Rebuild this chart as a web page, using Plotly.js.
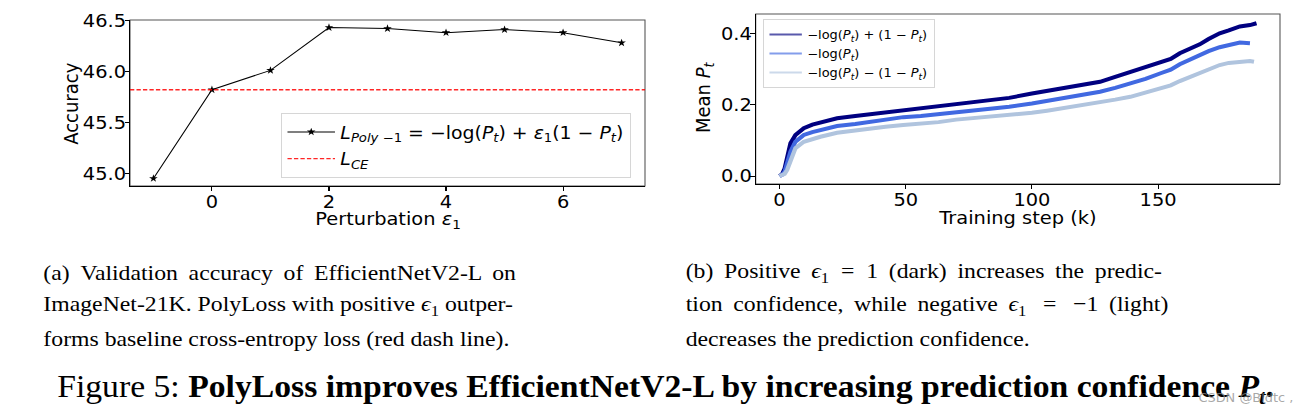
<!DOCTYPE html>
<html>
<head>
<meta charset="utf-8">
<script src="https://cdn.plot.ly/plotly-3.0.1.min.js"></script>
<style>
  html, body { margin: 0; padding: 0; background: #fff; }
  #wrap { width: 1302px; height: 416px; overflow: hidden; }
  #chart { width: 1206px; height: 416px; transform: scaleX(1.0796); transform-origin: 0 0; }
</style>
</head>
<body>
<div id="wrap"><div id="chart"></div></div>
<script>
// ---------- Panel (a) data ----------
const epsilon = [-1, 0, 1, 2, 3, 4, 5, 6, 7];
const accuracy = [44.95, 45.82, 46.01, 46.43, 46.42, 46.38, 46.41, 46.38, 46.28];
const ceAccuracy = 45.82;
const epsRange = [-1.4, 7.4];
const epsTicks = [0, 2, 4, 6];
const accRange = [44.876, 46.504];
const accTicks = [45.0, 45.5, 46.0, 46.5];

// ---------- Panel (b) data ----------
const steps = [0, 1, 2, 3, 4.35, 6.3, 9.6, 13, 16.2, 22.8, 30, 36, 42, 49, 56, 63, 70, 77, 84, 91,
               100, 106, 112.5, 120, 127, 133, 139, 145, 151, 155, 158.6, 162.5, 166.5, 170, 174.4, 178, 182.4, 186.4];
const stepsDark = steps.concat([189]);
const stepsLight = steps.concat([188]);
const meanPtDark = [0, 0.005, 0.02, 0.054, 0.092, 0.115, 0.134, 0.144, 0.150, 0.162, 0.168, 0.173, 0.179, 0.185, 0.190, 0.196, 0.202, 0.208, 0.213, 0.219,
                    0.231, 0.238, 0.246, 0.256, 0.264, 0.278, 0.292, 0.305, 0.318, 0.328, 0.344, 0.356, 0.369, 0.384, 0.400, 0.408, 0.419, 0.423, 0.428];
const meanPtMid = [0, 0.003, 0.012, 0.036, 0.068, 0.096, 0.115, 0.123, 0.129, 0.140, 0.146, 0.152, 0.158, 0.165, 0.168, 0.173, 0.180, 0.185, 0.190, 0.194,
                   0.203, 0.210, 0.218, 0.227, 0.236, 0.247, 0.260, 0.272, 0.288, 0.298, 0.313, 0.326, 0.339, 0.350, 0.361, 0.368, 0.374, 0.372];
const meanPtLight = [0, 0.002, 0.006, 0.017, 0.045, 0.078, 0.096, 0.104, 0.110, 0.121, 0.128, 0.134, 0.138, 0.143, 0.147, 0.151, 0.158, 0.162, 0.166, 0.170,
                     0.177, 0.183, 0.190, 0.198, 0.207, 0.214, 0.222, 0.233, 0.246, 0.254, 0.266, 0.277, 0.288, 0.299, 0.311, 0.317, 0.320, 0.322, 0.320];
const stepRange = [-9.45, 198.3];
const stepTicks = [0, 50, 100, 150];
const ptRange = [-0.0224, 0.454];
const ptTicks = [0.0, 0.2, 0.4];

// ---------- Text ----------
const T = "\u2009"; // thin space used to widen justified lines
const captionA = [
  "(a) " + T + "Validation " + T + "accuracy " + T + "of " + T + "EfficientNetV2-L " + T + "on",
  "ImageNet-21K. PolyLoss with positive <i>ϵ</i><sub>1</sub> outper-",
  "forms baseline cross-entropy loss (red dash line)."
];
const captionB = [
  "(b) " + T + "Positive " + T + "<i>ϵ</i><sub>1</sub>  =  1 " + T + "(dark) " + T + "increases " + T + "the " + T + "predic-",
  "tion " + T + "confidence, " + T + "while " + T + "negative " + T + "<i>ϵ</i><sub>1</sub> " + T + " = " + T + " −1 " + T + "(light)",
  "decreases the prediction confidence."
];
const figCaption = "Figure 5: <b>PolyLoss improves EfficientNetV2-L by increasing prediction confidence <i>P<sub>t</sub></i>.</b>";
const watermark = "CSDN @Bldtc ,";
const titleA = {x: "Perturbation <i>ε</i><sub>1</sub>", y: "Accuracy"};
const titleB = {x: "Training step (k)", y: "Mean <i>P</i><sub><i>t</i></sub>"};
const nameA = ["<i>L</i><sub><i>Poly</i> −1</sub> = −log(<i>P</i><sub><i>t</i></sub>) + <i>ε</i><sub>1</sub>(1 − <i>P</i><sub><i>t</i></sub>)",
               "<i>L</i><sub><i>CE</i></sub>"];
const nameB = ["−log(<i>P</i><sub><i>t</i></sub>) + (1 − <i>P</i><sub><i>t</i></sub>)",
               "−log(<i>P</i><sub><i>t</i></sub>)",
               "−log(<i>P</i><sub><i>t</i></sub>) − (1 − <i>P</i><sub><i>t</i></sub>)"];
const colorsB = ['#000080', '#4169E1', '#B0C4DE'];

const W = 1302, H = 416;
const px = v => v / W;
const py = v => 1 - v / H;

const mpl = "DejaVu Sans, sans-serif";
const serif = "Liberation Serif, Times New Roman, serif";

const seriesB = [[stepsDark, meanPtDark], [steps, meanPtMid], [stepsLight, meanPtLight]];

const traces = [
  {
    x: epsilon, y: accuracy, type: 'scatter', mode: 'lines+markers', name: nameA[0],
    line: {color: '#000', width: 1}, marker: {symbol: 'star', size: 6, color: '#000'},
    xaxis: 'x', yaxis: 'y', legend: 'legend', legendgroup: 'a1'
  },
  {
    x: epsRange, y: epsRange.map(() => ceAccuracy), type: 'scatter', mode: 'lines', name: nameA[1],
    line: {color: 'rgba(255,0,0,0.85)', width: 1.3, dash: '4px,2px'},
    xaxis: 'x', yaxis: 'y', legend: 'legend', legendgroup: 'a2'
  }
];
seriesB.forEach((s, i) => traces.push({
  x: s[0], y: s[1], type: 'scatter', mode: 'lines', name: nameB[i], showlegend: false,
  line: {color: colorsB[i], width: 4}, xaxis: 'x2', yaxis: 'y2'
}));
// legend proxies (thin, semi-transparent handles as in the reference legend)
seriesB.forEach((s, i) => traces.push({
  x: [null], y: [null], type: 'scatter', mode: 'lines', name: nameB[i], opacity: 0.65,
  line: {color: colorsB[i], width: 2}, xaxis: 'x2', yaxis: 'y2', legend: 'legend2'
}));

const axisCommon = {
  showgrid: false, zeroline: false, showline: true, linecolor: '#000', linewidth: 1,
  ticks: 'outside', ticklen: 4, tickcolor: '#000', tickwidth: 1, ticklabelstandoff: -5,
  tickfont: {family: mpl, size: 18, color: '#000'}
};

const annotations = [];
captionA.forEach((t, i) => annotations.push({
  xref: 'paper', yref: 'paper', x: px(41), y: py(272 + 33 * i), xanchor: 'left', yanchor: 'middle',
  text: t, showarrow: false, font: {family: serif, size: 22, color: '#000'}
}));
captionB.forEach((t, i) => annotations.push({
  xref: 'paper', yref: 'paper', x: px(683), y: py(272 + 33 * i), xanchor: 'left', yanchor: 'middle',
  text: t, showarrow: false, font: {family: serif, size: 22, color: '#000'}
}));
annotations.push({
  xref: 'paper', yref: 'paper', x: px(55), y: py(389), xanchor: 'left', yanchor: 'middle',
  text: figCaption, showarrow: false, font: {family: serif, size: 31.2, color: '#000'}
});
annotations.push({
  xref: 'paper', yref: 'paper', x: px(1196), y: py(398), xanchor: 'left', yanchor: 'middle',
  text: watermark, showarrow: false, font: {family: mpl, size: 12, color: 'rgba(140,140,140,0.75)'}
});
// axis titles
const axTitleFont = {family: mpl, size: 18, color: '#000'};
annotations.push({xref: 'paper', yref: 'paper', x: px(388), y: py(220), xanchor: 'center', yanchor: 'middle',
  text: titleA.x, showarrow: false, font: axTitleFont});
annotations.push({xref: 'paper', yref: 'paper', x: px(70), y: py(103), xanchor: 'center', yanchor: 'middle',
  text: titleA.y, textangle: -90, showarrow: false, font: axTitleFont});
annotations.push({xref: 'paper', yref: 'paper', x: px(1018), y: py(217), xanchor: 'center', yanchor: 'middle',
  text: titleB.x, showarrow: false, font: axTitleFont});
annotations.push({xref: 'paper', yref: 'paper', x: px(705), y: py(97), xanchor: 'center', yanchor: 'middle',
  text: titleB.y, textangle: -90, showarrow: false, font: axTitleFont});

const layout = {
  width: 1206, height: 416, autosize: false,
  margin: {l: 0, r: 0, t: 0, b: 0},
  paper_bgcolor: '#fff', plot_bgcolor: '#fff',
  xaxis: Object.assign({}, axisCommon, {
    domain: [px(130), px(645)], range: epsRange, tickvals: epsTicks, anchor: 'y'
  }),
  yaxis: Object.assign({}, axisCommon, {
    domain: [py(186), py(20)], range: accRange, tickvals: accTicks, tickformat: '.1f', anchor: 'x'
  }),
  xaxis2: Object.assign({}, axisCommon, {
    domain: [px(755.7), px(1280)], range: stepRange, tickvals: stepTicks, anchor: 'y2'
  }),
  yaxis2: Object.assign({}, axisCommon, {
    domain: [py(184), py(14)], range: ptRange, tickvals: ptTicks, tickformat: '.1f', anchor: 'x2'
  }),
  shapes: [
    {type: 'rect', xref: 'x domain', yref: 'y domain', x0: 0, x1: 1, y0: 0, y1: 1, line: {color: '#555', width: 1}, layer: 'below'},
    {type: 'rect', xref: 'x2 domain', yref: 'y2 domain', x0: 0, x1: 1, y0: 0, y1: 1, line: {color: '#555', width: 1}, layer: 'below'}
  ],
  legend: {
    x: px(281), y: py(113), xanchor: 'left', yanchor: 'top',
    bgcolor: 'rgba(255,255,255,0.8)', bordercolor: '#d6d6d6', borderwidth: 1,
    font: {family: mpl, size: 17.5, color: '#000'}, itemwidth: 44,
    traceorder: 'grouped', tracegroupgap: 1
  },
  legend2: {
    x: px(763), y: py(19), xanchor: 'left', yanchor: 'top',
    bgcolor: 'rgba(255,255,255,0.8)', bordercolor: '#d6d6d6', borderwidth: 1,
    font: {family: mpl, size: 12, color: '#000'}, itemwidth: 30
  },
  annotations: annotations,
  showlegend: true
};

Plotly.newPlot('chart', traces, layout, {displayModeBar: false, staticPlot: true});
</script>
</body>
</html>
